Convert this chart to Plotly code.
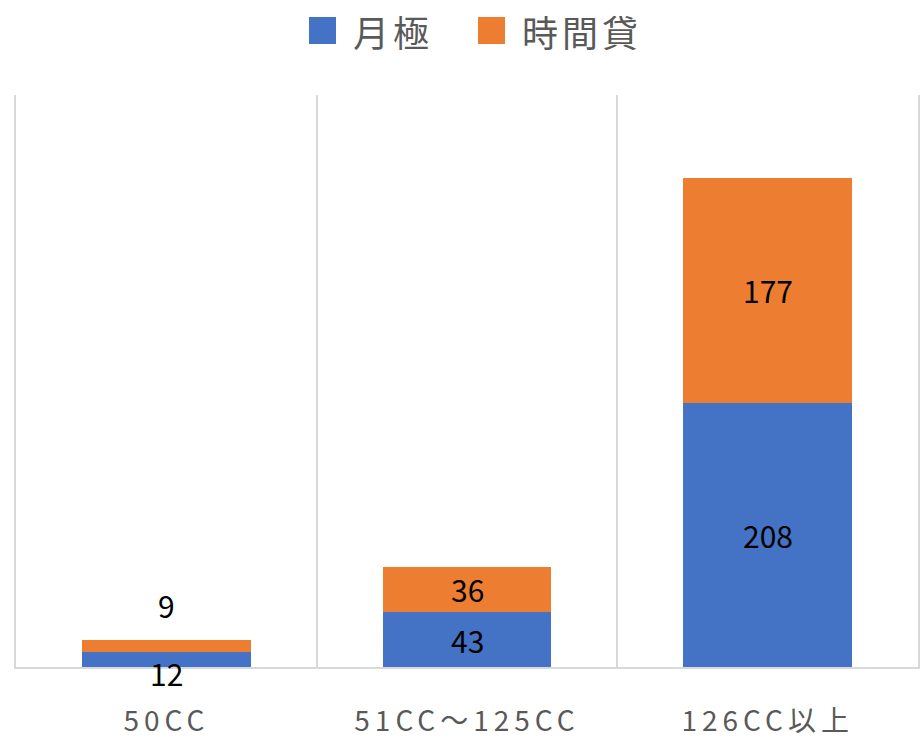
import plotly.graph_objects as go

categories = ["50CC", "51CC～125CC", "126CC以上"]
monthly = [12, 43, 208]      # 月極
hourly = [9, 36, 177]        # 時間貸
series_names = ["月極", "時間貸"]
colors = ["#4472C4", "#ED7D31"]

W, H = 920, 739
ML, MR, MT, MB = 16, 2, 95, 72
FONT = "Noto Sans CJK JP"

fig = go.Figure()
fig.add_trace(go.Bar(x=categories, y=monthly, name=series_names[0],
                     marker=dict(color=colors[0], line=dict(width=0)), showlegend=False))
fig.add_trace(go.Bar(x=categories, y=hourly, name=series_names[1],
                     marker=dict(color=colors[1], line=dict(width=0)), showlegend=False))

# data labels (centered in each segment; the small first bar's labels are offset)
shifts_m = [-14, 0, 0]
shifts_h = [41, 0, 0]
for i, c in enumerate(categories):
    fig.add_annotation(x=c, y=monthly[i] / 2, text=str(monthly[i]), showarrow=False,
                       yshift=shifts_m[i], font=dict(size=30, color="#000000", family=FONT))
    fig.add_annotation(x=c, y=monthly[i] + hourly[i] / 2, text=str(hourly[i]), showarrow=False,
                       yshift=shifts_h[i], font=dict(size=30, color="#000000", family=FONT))

# custom legend
pw, ph = W - ML - MR, H - MT - MB
def px(x):
    return (x - ML) / pw
def py(y):
    return (H - MB - y) / ph

legend_items = [(309, 351), (478, 520)]
for (sx, tx), name, col in zip(legend_items, series_names, colors):
    fig.add_shape(type="rect", xref="paper", yref="paper",
                  x0=px(sx), x1=px(sx + 27), y0=py(44), y1=py(17),
                  fillcolor=col, line=dict(width=0))
    fig.add_annotation(xref="paper", yref="paper", x=px(tx), y=py(31),
                       xanchor="left", yanchor="middle", showarrow=False,
                       text=f'<span style="letter-spacing:4px">{name}</span>',
                       font=dict(size=36, color="#595959", family=FONT))

fig.update_layout(
    barmode="stack",
    bargap=0.44,
    width=W, height=H,
    margin=dict(l=ML, r=MR, t=MT, b=MB, autoexpand=False),
    paper_bgcolor="white",
    plot_bgcolor="white",
    font=dict(family=FONT),
    showlegend=False,
)
fig.update_xaxes(
    tickson="boundaries", showgrid=True, gridcolor="#D9D9D9", gridwidth=1.5,
    showline=True, linecolor="#D9D9D9", linewidth=1.5, mirror=False,
    ticks="", ticklabelstandoff=29, automargin=False,
    tickvals=categories,
    ticktext=[f'<span style="letter-spacing:5px">{c}</span>' for c in categories],
    tickfont=dict(size=28, color="#595959", family=FONT),
    range=[-0.5, 2.5],
)
fig.update_yaxes(range=[0, 450], showgrid=False, showticklabels=False, zeroline=False,
                 automargin=False,
                 showline=True, mirror=True, linecolor="#D9D9D9", linewidth=1.5)

fig.write_html("out.html", post_script="document.body.style.margin='0';",
               config={"displayModeBar": False})
